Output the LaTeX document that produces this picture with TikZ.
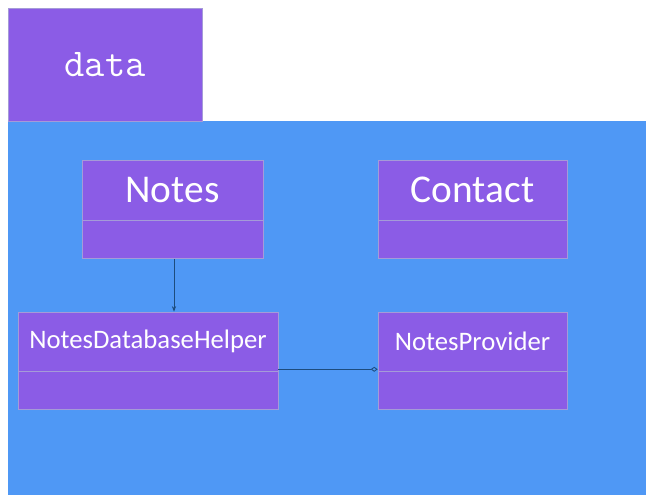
\documentclass[tikz,border=0pt]{standalone}
\usepackage{fontspec}
\newfontfamily\classfont{Carlito}
\usetikzlibrary{positioning}
\usetikzlibrary{arrows.meta}
\definecolor{pkgblue}{HTML}{4F98F5}
\definecolor{clspurple}{HTML}{8B5CE6}
\definecolor{clsline}{HTML}{A59BD8}
\definecolor{linkblue}{HTML}{1D4C7E}
\tikzset{
    tabbox/.style = {rectangle, draw=clsline, fill=clspurple, text=white, inner sep=0pt},
    pkgbox/.style = {rectangle, draw=none, fill=pkgblue},
    classhead/.style = {rectangle, draw=clsline, fill=clspurple, text=white, inner sep=0pt,
                        minimum height=1.5cm, font=\classfont\fontsize{28}{30}\selectfont},
    classheads/.style = {classhead, font=\classfont\fontsize{19}{23}\selectfont, minimum height=1.475cm},
    classbody/.style = {rectangle, draw=clsline, fill=clspurple, inner sep=0pt, minimum height=0.95cm},
    depend/.style = {-{Stealth[length=4pt,width=3pt]}, linkblue, semithick},
    assoc/.style = {-{Diamond[open,length=5pt,width=3.5pt]}, linkblue, semithick}
}

\begin{document}
\begin{tikzpicture}
\useasboundingbox (0,0) rectangle (16.15,-12.375);
% package
\fill[pkgblue] (0.2,-3.025) rectangle (16.15,-12.375);
\node[tabbox, minimum width=4.85cm, minimum height=2.825cm, font=\ttfamily\fontsize{28}{30}\selectfont] at (2.625,-1.6125) (tab) {data};
%
\node[classhead, minimum width=4.525cm] at (4.3125, -4.75) (notes) {Notes};
\node[classbody, minimum width=4.525cm, below=0pt of notes] (notesb) {};
\node[classhead, minimum width=4.725cm] at (11.8125, -4.75) (contact) {Contact};
\node[classbody, minimum width=4.725cm, below=0pt of contact] (contactb) {};
\node[classheads, minimum width=6.5cm] at (3.7, -8.5375) (helper) {NotesDatabaseHelper};
\node[classbody, minimum width=6.5cm, below=0pt of helper] (helperb) {};
\node[classheads, minimum width=4.725cm] at (11.8125, -8.5375) (provider) {NotesProvider};
\node[classbody, minimum width=4.725cm, below=0pt of provider] (providerb) {};
%
\draw[depend] (notesb.south -| 4.35,0) -- (helper.north -| 4.35,0);
\draw[assoc] ([yshift=0.05cm]helper.south east) -- ([yshift=0.05cm]provider.south west);
\end{tikzpicture}
\end{document}
